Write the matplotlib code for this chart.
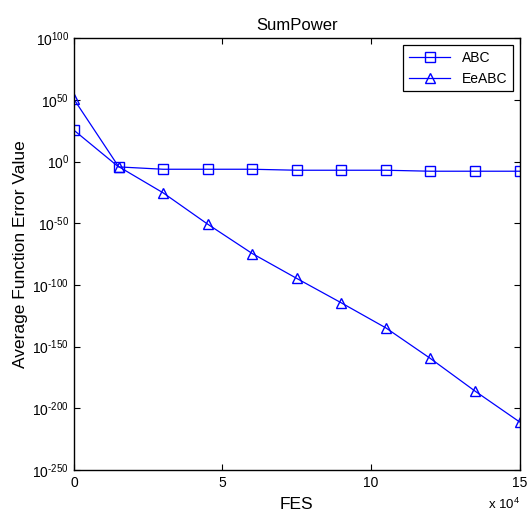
import math
import matplotlib.pyplot as plt
from matplotlib.ticker import FixedLocator, FuncFormatter

plt.rcParams['font.family'] = ['Liberation Sans', 'DejaVu Sans']
plt.rcParams['mathtext.default'] = 'regular'
plt.rcParams['axes.unicode_minus'] = False

# data
fes = [0, 15000, 30000, 45000, 60000, 75000, 90000, 105000, 120000, 135000, 150000]
abc_exp = [25.4, -4.3, -6.2, -6.2, -6.2, -7.0, -7.0, -7.0, -7.8, -7.8, -7.8]
eeabc_exp = [50.5, -4.0, -25.3, -50.7, -74.5, -94.7, -114.5, -134.8, -159.6, -186.0, -211.0]

abc = [10.0 ** e for e in abc_exp]
eeabc = [10.0 ** e for e in eeabc_exp]


def pow_label(v, p):
    # short hyphen as in the original, not a long minus
    k = round(math.log10(v))
    s = str(abs(k))
    if k < 0:
        s = '\u2010' + s
    return '$10^{%s}$' % s


fig = plt.figure(figsize=(5.27, 5.14), dpi=100)
ax = fig.add_axes([0.1404, 0.0856, 0.8454, 0.84])

ax.semilogy(fes, abc, color='blue', marker='s', markersize=6.5, markerfacecolor='none',
            markeredgecolor='blue', linewidth=0.9, label='ABC')
ax.semilogy(fes, eeabc, color='blue', marker='^', markersize=7.5, markerfacecolor='none',
            markeredgecolor='blue', linewidth=0.9, label='EeABC')

ax.set_xlim(0, 150000)
ax.set_ylim(1e-250, 1e100)
ax.xaxis.set_major_locator(FixedLocator([0, 50000, 100000, 150000]))
ax.xaxis.set_major_formatter(FuncFormatter(lambda v, p: '%d' % round(v / 1e4)))
yt = [10.0 ** k for k in range(-250, 101, 50)]
ax.yaxis.set_major_locator(FixedLocator(yt))
ax.yaxis.set_minor_locator(FixedLocator([]))
ax.yaxis.set_major_formatter(FuncFormatter(pow_label))

ax.tick_params(direction='in', top=True, right=True, length=4, width=0.8, labelsize=10)
ax.tick_params(axis='x', pad=4)
for s in ax.spines.values():
    s.set_linewidth(1.0)

ax.set_title('SumPower', fontsize=12, pad=6)
ax.set_xlabel('FES', fontsize=12.5, labelpad=5)
ax.set_ylabel('Average Function Error Value', fontsize=12.5, labelpad=3)
fig.text(0.986, 0.004, r'x $10^{4}$', fontsize=9.5, ha='right', va='bottom')

leg = ax.legend(loc='upper right', fancybox=False, edgecolor='black', framealpha=1,
                fontsize=10, handlelength=3.0, borderaxespad=0.5)
leg.get_frame().set_linewidth(0.9)

fig.savefig('out.png', dpi=100)
